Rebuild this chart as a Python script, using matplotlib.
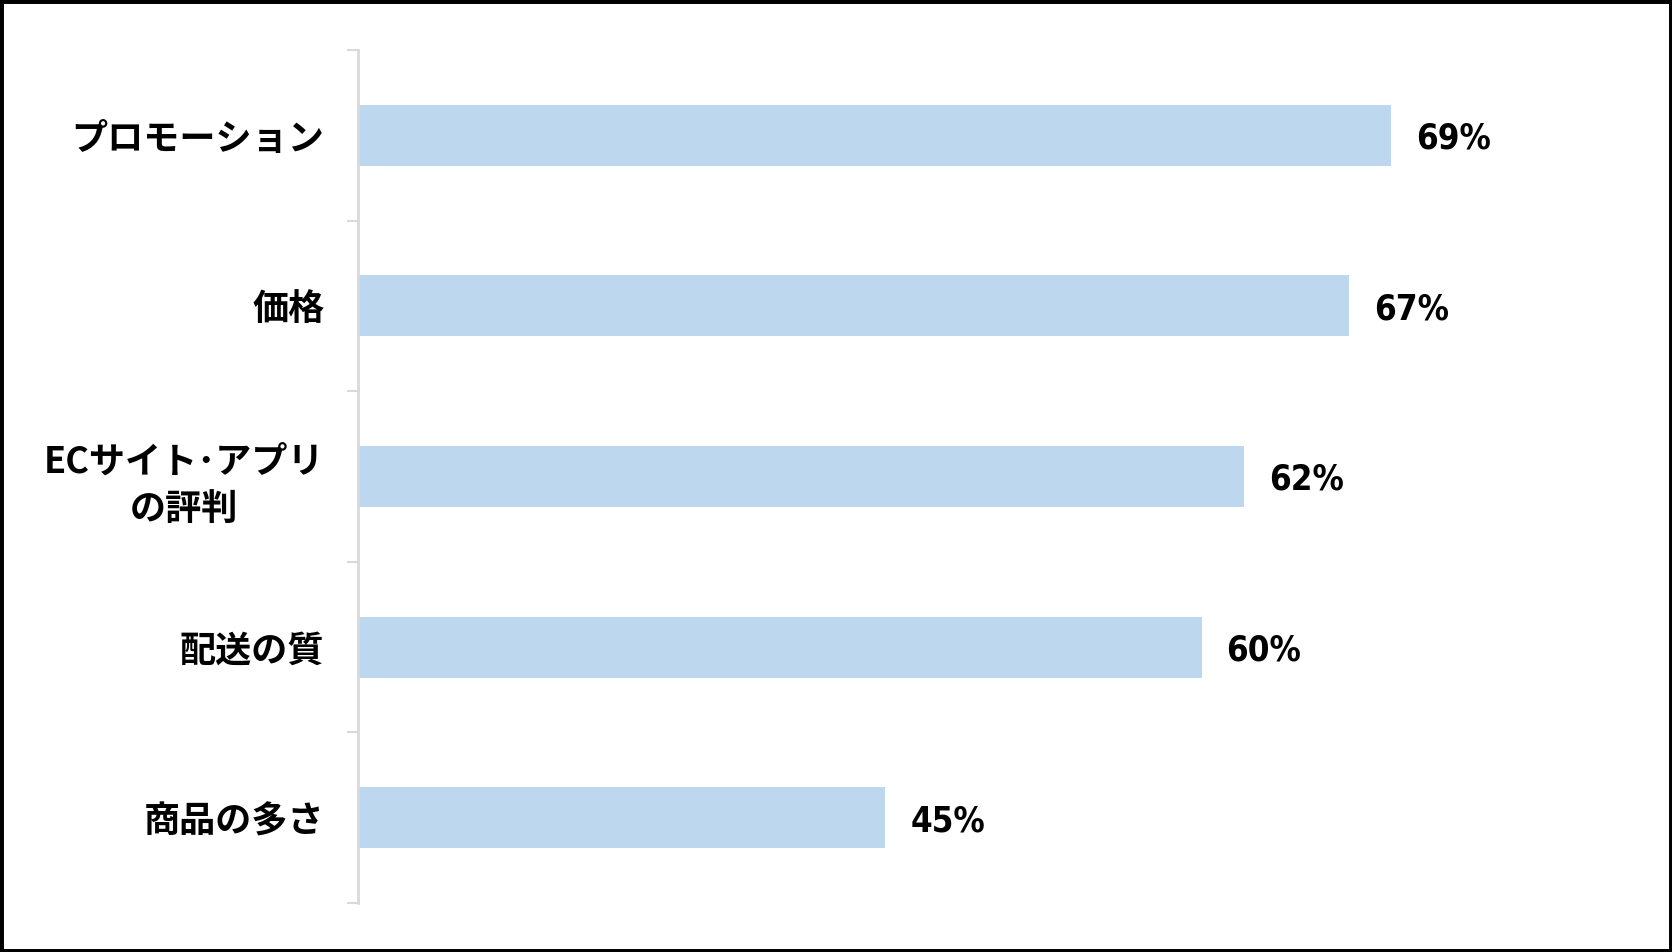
import numpy as np
import matplotlib.pyplot as plt
from matplotlib.patches import Rectangle

categories = ["プロモーション", "価格", "ECサイト･アプリ\nの評判", "配送の質", "商品の多さ"]
values = [69, 67, 62, 60, 45]

BAR_COLOR = "#BDD7EE"
AXIS_COLOR = "#D9D9D9"
JP_FONT = ["Noto Sans CJK JP", "DejaVu Sans"]

fig = plt.figure(figsize=(16.72, 9.52), dpi=100)
ax = fig.add_axes([0.214, 0.0515, 0.757, 0.896])

y = np.arange(len(categories))
bars = ax.barh(y, values, height=0.357, color=BAR_COLOR, left=0)

ax.set_xlim(20, 80)
ax.set_ylim(len(categories) - 0.5, -0.5)

# value labels to the right of each bar (narrow bold digits)
for yi, v in zip(y, values):
    ax.annotate(f"{v}%", xy=(v, yi), xytext=(18, -2.5), textcoords="offset points",
                va="center", ha="left", fontsize=25, fontweight="bold",
                family="DejaVu Sans", fontstretch="condensed", color="black")

# category labels, boundary ticks like excel
ax.set_yticks(y)
ax.set_yticklabels(categories)
ax.tick_params(axis="y", which="major", length=0, pad=24)
for lab in ax.get_yticklabels():
    lab.set_family(JP_FONT)
    lab.set_fontsize(26)
    lab.set_fontweight("bold")
    lab.set_multialignment("center")
    lab.set_linespacing(1.35)
ax.set_yticks(np.arange(-0.5, len(categories)), minor=True)
ax.tick_params(axis="y", which="minor", length=8, width=1.5, color=AXIS_COLOR, direction="out")

ax.set_xticks([])
for side in ["top", "right", "bottom"]:
    ax.spines[side].set_visible(False)
ax.spines["left"].set_color(AXIS_COLOR)
ax.spines["left"].set_linewidth(2)

# black frame round the whole picture
fig.patches.append(Rectangle((0, 0), 1, 1, transform=fig.transFigure, fill=False,
                             edgecolor="black", linewidth=5))

fig.savefig("out.png", dpi=100)
